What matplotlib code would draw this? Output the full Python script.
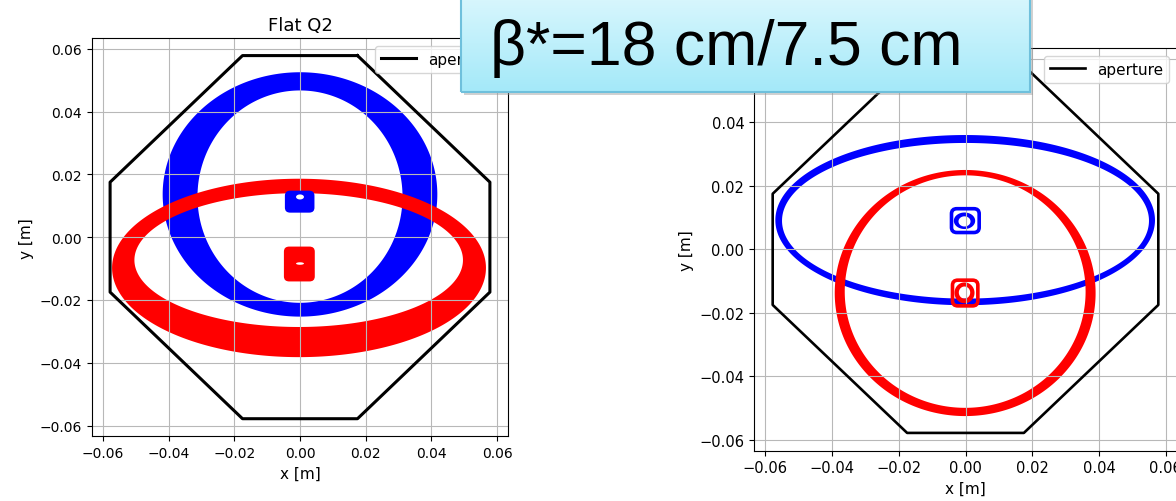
import numpy as np
import matplotlib
matplotlib.use("Agg")
from matplotlib import pyplot as plt, patches
from matplotlib.colors import LinearSegmentedColormap

W, H = 1176, 502

# aperture octagon (m)
aperture_x = [0.0175, 0.0578, 0.0578, 0.0175, -0.0175, -0.0578, -0.0578, -0.0175, 0.0175]
aperture_y = [0.0578, 0.0175, -0.0175, -0.0578, -0.0578, -0.0175, 0.0175, 0.0578, 0.0578]

ticks = [-0.06, -0.04, -0.02, 0.00, 0.02, 0.04, 0.06]

# beam envelopes: (cx, cy, half-width, half-height) of outer and inner edge
left_blue_outer = (0.0, 0.0136, 0.0418, 0.0389)
left_blue_inner = (0.0, 0.0129, 0.0312, 0.0338)
left_red_outer = (-0.0003, -0.0098, 0.0569, 0.0284)
left_red_inner = (-0.0004, -0.0073, 0.0500, 0.0213)

right_blue_outer = (-0.0001, 0.0092, 0.0569, 0.0268)
right_blue_inner = (0.0, 0.0090, 0.0550, 0.0245)
right_red_outer = (-0.0001, -0.01375, 0.0391, 0.03875)
right_red_inner = (-0.0001, -0.0133, 0.0361, 0.0366)

# small core particles: box (x0, y0, x1, y1) and hole/ring ellipses
left_blue_core = (-0.0046, 0.0078, 0.0044, 0.0148)
left_blue_hole = (0.0, 0.0128, 0.0012, 0.0008)
left_red_core = (-0.0049, -0.0141, 0.0045, -0.0030)
left_red_hole = (0.0, -0.0084, 0.0012, 0.0004)

right_blue_core = (-0.0042, 0.0053, 0.0041, 0.0128)
right_blue_ring_out = (-0.0003, 0.0090, 0.0032, 0.0026)
right_blue_ring_in = (-0.0003, 0.0088, 0.0018, 0.0016)
right_red_core = (-0.0039, -0.0178, 0.0037, -0.0097)
right_red_ring_out = (-0.0003, -0.0137, 0.0030, 0.0033)
right_red_ring_in = (-0.0003, -0.0136, 0.0017, 0.0019)


def ellipse(e, n=400):
    t = np.linspace(0, 2 * np.pi, n)
    return e[0] + e[2] * np.cos(t), e[1] + e[3] * np.sin(t)


def band(ax, outer, inner, color):
    ox, oy = ellipse(outer)
    ix, iy = ellipse(inner)
    ax.fill(np.r_[ox, ix[::-1]], np.r_[oy, iy[::-1]], color=color, lw=0)


def core_box(ax, box, color, filled, lw=0):
    x0, y0, x1, y1 = box
    p = patches.FancyBboxPatch((x0, y0), x1 - x0, y1 - y0,
                               boxstyle="round,pad=0,rounding_size=0.0016",
                               facecolor=color if filled else "none",
                               edgecolor=color, lw=lw, zorder=3)
    ax.add_patch(p)


def setup(ax, fs, lw):
    ax.plot(aperture_x, aperture_y, 'k', lw=lw, label='aperture')
    ax.set_xlim(-0.0634, 0.0634)
    ax.set_ylim(-0.0634, 0.0634)
    ax.set_xticks(ticks)
    ax.set_yticks(ticks)
    ax.tick_params(labelsize=fs)
    ax.grid(True, color='#b8b8b8', lw=0.8)
    ax.set_xlabel('x [m]', fontsize=11)
    ax.set_ylabel('y [m]', fontsize=11)
    ax.legend(loc='upper right', fontsize=11, handlelength=2.3)


fig = plt.figure(figsize=(W / 100, H / 100), dpi=100)

# left panel
ax1 = fig.add_axes([91.7 / W, (H - 437.3) / H, 416.6 / W, 398.3 / H])
setup(ax1, 10, 2.2)
ax1.set_title('Flat Q2', fontsize=13)
band(ax1, left_blue_outer, left_blue_inner, 'blue')
core_box(ax1, left_blue_core, 'blue', True)
hx, hy = ellipse(left_blue_hole)
ax1.fill(hx, hy, color='white', lw=0, zorder=4)
band(ax1, left_red_outer, left_red_inner, 'red')
core_box(ax1, left_red_core, 'red', True)
hx, hy = ellipse(left_red_hole)
ax1.fill(hx, hy, color='white', lw=0, zorder=4)

# right panel
ax2 = fig.add_axes([754 / W, (H - 451.7) / H, 423 / W, 402.7 / H])
setup(ax2, 10.5, 1.9)
band(ax2, right_blue_outer, right_blue_inner, 'blue')
core_box(ax2, right_blue_core, 'blue', False, lw=2.6)
band(ax2, right_blue_ring_out, right_blue_ring_in, 'blue')
band(ax2, right_red_outer, right_red_inner, 'red')
core_box(ax2, right_red_core, 'red', False, lw=2.6)
band(ax2, right_red_ring_out, right_red_ring_in, 'red')

# overlay label box
bx0, bx1, by1 = 460.7, 1030.0, 92.7
shadow = patches.Rectangle(((bx0 + 3) / W, (H - by1 - 3) / H), (bx1 - bx0) / W, (by1 + 10) / H,
                           transform=fig.transFigure, facecolor='#9a9a9a', alpha=0.45,
                           lw=0, zorder=9)
fig.patches.append(shadow)
axb = fig.add_axes([bx0 / W, (H - by1) / H, (bx1 - bx0) / W, (by1 + 6) / H])
axb.set_zorder(10)
cmap = LinearSegmentedColormap.from_list('box', ['#a4e9f9', '#daf7fd'])
axb.imshow(np.linspace(0, 1, 100).reshape(-1, 1), cmap=cmap, aspect='auto',
           origin='lower', extent=[0, 1, 0, 1])
axb.set_xlim(0, 1)
axb.set_ylim(0, 1)
axb.axis('off')
axb.add_patch(patches.Rectangle((0, 0), 1, 1, transform=axb.transAxes, fill=False,
                                edgecolor='#6fc0dc', lw=1.5, clip_on=False))
axb.text(490 / W, 1 - 65 / H, 'β*=18 cm/7.5 cm', transform=fig.transFigure,
         fontsize=45, family=['Liberation Sans', 'DejaVu Sans'], va='baseline',
         ha='left', color='black', clip_on=False)

fig.savefig('out.png', dpi=100)
